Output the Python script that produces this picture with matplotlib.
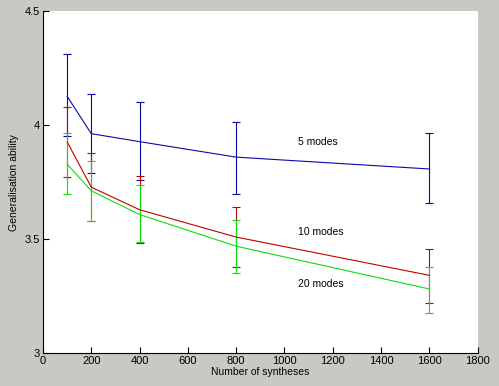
import matplotlib.pyplot as plt
import numpy as np

plt.rcParams["font.family"] = ["Liberation Sans", "DejaVu Sans"]

syntheses = [100, 200, 400, 800, 1600]

modes5 = [4.127, 3.963, 3.928, 3.860, 3.808]
modes5_hi = [4.311, 4.137, 4.104, 4.016, 3.968]
modes5_lo = [3.955, 3.792, 3.759, 3.697, 3.657]

modes10 = [3.927, 3.728, 3.629, 3.509, 3.341]
modes10_hi = [4.082, 3.876, 3.776, 3.643, 3.457]
modes10_lo = [3.773, 3.580, 3.485, 3.376, 3.218]

modes20 = [3.829, 3.712, 3.608, 3.469, 3.281]
modes20_hi = [3.966, 3.845, 3.737, 3.586, 3.379]
modes20_lo = [3.697, 3.580, 3.486, 3.351, 3.174]

labels = ["5 modes", "10 modes", "20 modes"]
label_pos = [(1140, 3.925), (1150, 3.531), (1150, 3.301)]
colors = ["#0a0aa8", "#c00000", "#10dc10"]

fig = plt.figure(figsize=(4.99, 3.86), dpi=100, facecolor="#c6c9c4")
ax = fig.add_axes([0.0862, 0.0855, 0.871, 0.885])
ax.set_facecolor("white")

series = [(modes5, modes5_lo, modes5_hi),
          (modes10, modes10_lo, modes10_hi),
          (modes20, modes20_lo, modes20_hi)]
for (y, lo, hi), c in zip(series, colors):
    y, lo, hi = np.array(y), np.array(lo), np.array(hi)
    ax.errorbar(syntheses, y, yerr=[y - lo, hi - y], color=c, lw=0.8,
                elinewidth=0.8, capsize=2.9, capthick=0.8)

for text, (x, y) in zip(labels, label_pos):
    ax.text(x, y, text, fontsize=7.5, ha="center", va="center")

ax.set_xlim(0, 1800)
ax.set_ylim(3, 4.5)
ax.set_xticks(np.arange(0, 1801, 200))
ax.set_yticks([3, 3.5, 4, 4.5])
ax.set_yticklabels(["3", "3.5", "4", "4.5"])
ax.tick_params(direction="in", length=4, width=0.8, labelsize=8, pad=2)
for s in ["top", "right"]:
    ax.spines[s].set_visible(False)
for s in ["left", "bottom"]:
    ax.spines[s].set_linewidth(0.8)
ax.set_xlabel("Number of syntheses", fontsize=7.5, labelpad=1)
ax.set_ylabel("Generalisation ability", fontsize=7.5, labelpad=4)

fig.savefig("out.png", dpi=100, facecolor=fig.get_facecolor())
